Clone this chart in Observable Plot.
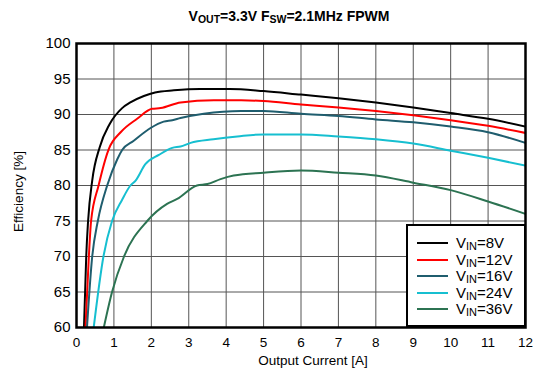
<!DOCTYPE html>
<html>
<head>
<meta charset="utf-8">
<script src="https://cdn.jsdelivr.net/npm/d3@7"></script>
<script src="https://cdn.jsdelivr.net/npm/@observablehq/plot@0.6"></script>
<style>
  body { margin: 0; background: #fff; font-family: "Liberation Sans", Arial, sans-serif; }
  #wrap { position: relative; width: 541px; height: 368px; overflow: hidden; }
  #title { position: absolute; top: 8px; left: 0; width: 578px; text-align: center; font-weight: bold; font-size: 14px; color: #000; }
  #title sub { font-size: 10.5px; vertical-align: -2px; line-height: 0; }
  #chart { position: absolute; top: 30px; left: 0; }
  #legend { position: absolute; left: 406px; top: 224px; width: 116px; height: 99px; border: 2px solid #000; background: #fff; }
  .row { position: absolute; left: 0; height: 16px; width: 116px; }
  .row .sw { position: absolute; left: 9px; top: 7px; width: 31px; height: 2px; }
  .row .lb { position: absolute; left: 48px; top: 0px; font-size: 15px; line-height: 16px; color: #000; white-space: nowrap; }
  .row .lb sub { font-size: 11px; vertical-align: -2px; line-height: 0; }
</style>
</head>
<body>
<div id="wrap">
  <div id="title">V<sub>OUT</sub>=3.3V F<sub>SW</sub>=2.1MHz FPWM</div>
  <div id="chart"></div>
  <div id="legend"></div>
</div>
<script>
const seriesNames = ["8V", "12V", "16V", "24V", "36V"];
const seriesColors = ["#000000", "#ff0000", "#1f5d6e", "#16bfd0", "#2c7352"];

const current8 = [0.2, 0.23, 0.26, 0.31, 0.42, 0.62, 0.88, 1.22, 1.44, 1.8, 2.1, 2.6, 3.3, 4.1, 5, 6, 7, 8, 9, 10, 11, 12];
const eff8     = [60, 65, 70, 75, 80.7, 85.4, 88.6, 90.9, 91.7, 92.6, 93.1, 93.4, 93.6, 93.6, 93.3, 92.8, 92.3, 91.7, 91.0, 90.2, 89.4, 88.3];

const current12 = [0.24, 0.33, 0.39, 0.59, 0.86, 1.18, 1.62, 2.02, 2.25, 2.78, 3.67, 4.4, 5, 6, 7, 8, 9, 10, 11, 12];
const eff12     = [60, 70, 75, 80, 85.1, 87.5, 89.4, 90.8, 90.9, 91.7, 92.0, 92.0, 91.9, 91.4, 91.0, 90.5, 89.9, 89.2, 88.4, 87.4];

const current16 = [0.28, 0.42, 0.57, 0.82, 1.09, 1.22, 1.53, 1.98, 2.33, 2.56, 2.78, 3.4, 4.4, 5, 6, 7, 8, 9, 10, 11, 12];
const eff16     = [60, 70, 75, 80, 83.7, 85, 86.3, 88.1, 89.0, 89.2, 89.5, 90.1, 90.5, 90.5, 90.1, 89.8, 89.3, 88.9, 88.3, 87.5, 86.0];

const current24 = [0.46, 0.72, 0.95, 1.22, 1.44, 1.58, 1.84, 2.2, 2.56, 2.78, 3.05, 3.66, 4.3, 5, 6, 7, 8, 9, 10, 11, 12];
const eff24     = [60, 70, 75, 78, 80, 80.7, 83.0, 84.3, 85.3, 85.5, 86.0, 86.5, 86.9, 87.2, 87.2, 86.9, 86.5, 85.9, 84.9, 83.9, 82.8];

const current36 = [0.73, 0.95, 1.27, 1.89, 2.42, 2.69, 3.22, 3.5, 3.85, 4.2, 5, 6, 7, 8, 9, 10, 11, 12];
const eff36     = [60, 65, 70, 75, 77.4, 78.1, 80, 80.2, 80.9, 81.4, 81.8, 82.1, 81.8, 81.4, 80.4, 79.35, 77.75, 76.0];

const xTicks = [0, 1, 2, 3, 4, 5, 6, 7, 8, 9, 10, 11, 12];
const yTicks = [60, 65, 70, 75, 80, 85, 90, 95, 100];

const currents = [current8, current12, current16, current24, current36];
const effs = [eff8, eff12, eff16, eff24, eff36];
const data = [];
seriesNames.forEach((s, i) => {
  currents[i].forEach((c, j) => data.push({series: s, current: c, eff: effs[i][j]}));
});

const plot = Plot.plot({
  width: 541,
  height: 338,
  marginLeft: 76,
  marginRight: 16,
  marginTop: 13,
  marginBottom: 41,
  style: { fontFamily: "'Liberation Sans', Arial, sans-serif", background: "transparent", color: "#000" },
  x: { domain: [0, 12] },
  y: { domain: [60, 100] },
  color: { domain: seriesNames, range: seriesColors },
  marks: [
    Plot.gridX(xTicks, { stroke: "#555", strokeOpacity: 1, strokeWidth: 1 }),
    Plot.gridY(yTicks, { stroke: "#555", strokeOpacity: 1, strokeWidth: 1 }),
    Plot.line(data, { x: "current", y: "eff", z: "series", stroke: "series", strokeWidth: 2, curve: "monotone-x", clip: true }),
    Plot.frame({ stroke: "#000", strokeWidth: 2.5 }),
    Plot.axisX(xTicks, { tickSize: 0, tickPadding: 10, fontSize: 13.5, label: null, fill: "#000" }),
    Plot.axisY(yTicks, { tickSize: 0, tickPadding: 6, fontSize: 15, label: null, fill: "#000" }),
    Plot.text(["Output Current [A]"], { frameAnchor: "bottom", dx: 12, dy: 37, fontSize: 13.5, textAnchor: "middle", fill: "#000" }),
    Plot.text(["Efficiency [%]"], { frameAnchor: "left", dx: -58, dy: 6, rotate: -90, fontSize: 13.5, textAnchor: "middle", fill: "#000" })
  ]
});
document.getElementById("chart").appendChild(plot);

const legend = document.getElementById("legend");
seriesNames.forEach((s, i) => {
  const row = document.createElement("div");
  row.className = "row";
  row.style.top = (9 + i * 16.5) + "px";
  row.innerHTML = `<div class="sw" style="background:${seriesColors[i]}"></div><div class="lb">V<sub>IN</sub>=${s}</div>`;
  legend.appendChild(row);
});
</script>
</body>
</html>
